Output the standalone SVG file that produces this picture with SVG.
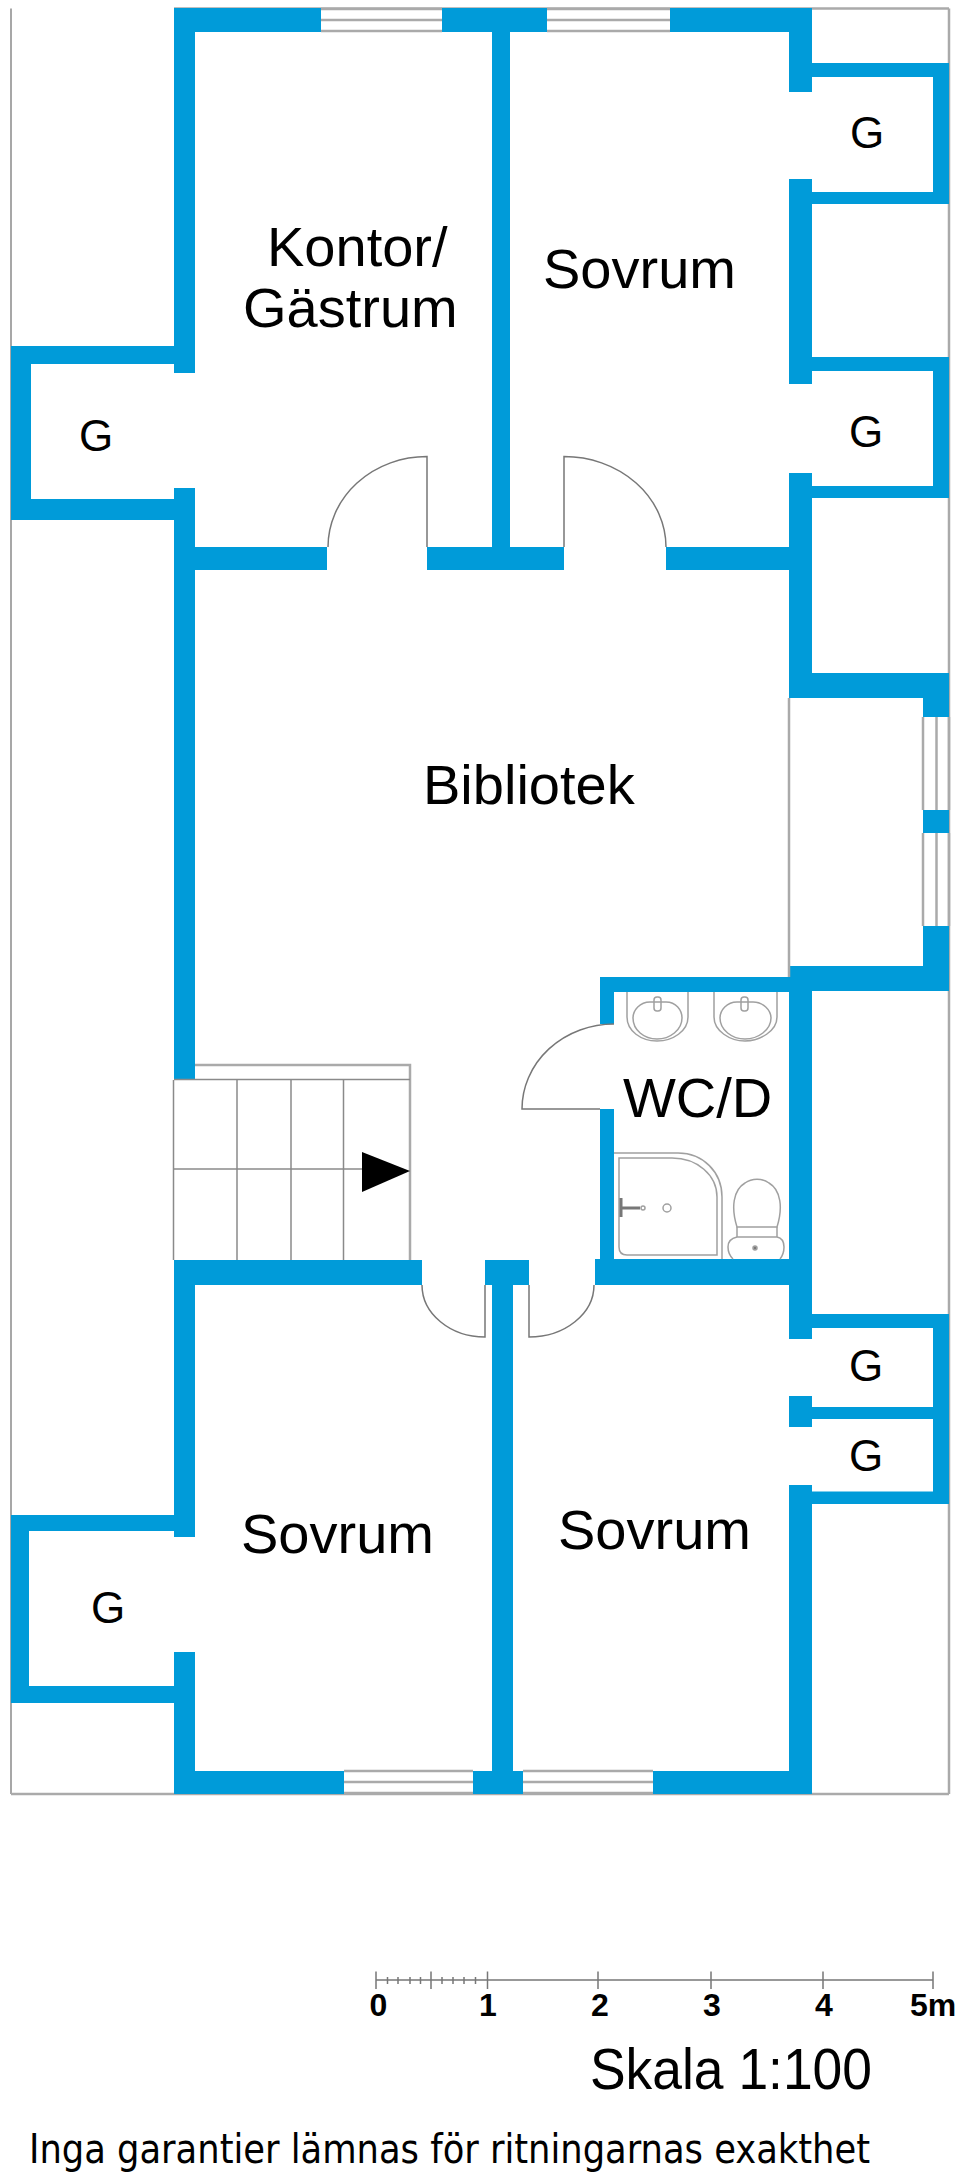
<svg xmlns="http://www.w3.org/2000/svg" width="960" height="2177" viewBox="0 0 960 2177">
<style>
.w{fill:#009bd9}
.g{fill:none;stroke:#aaa;stroke-width:2.5}
.t{fill:none;stroke:#8a8a8a;stroke-width:1.5}
.f{fill:none;stroke:#a0a0a0;stroke-width:1.5}
.s{fill:none;stroke:#777;stroke-width:1.5}
.l{font-family:"Liberation Sans",Arial,sans-serif;font-size:56px;fill:#000}
.m{font-size:44px}
.n{font-size:32px;font-weight:bold;text-anchor:middle}
</style>
<rect width="960" height="2177" fill="#fff"/>
<g id="frame">
<path class="t" d="M11 8.5V1794"/>
<path class="g" d="M949 8.5V1794M11 1794H949"/>
<path class="g" d="M174 8.5H949" stroke-width="1.5"/>
</g>
<g id="windows">
<path class="g" d="M321 9H442M321 20H442M321 31H442M547 9H670M547 20H670M547 31H670"/>
<path class="g" d="M923 717V810M936.500 717V810M949 717V810M923 833V926M936.500 833V926M949 833V926"/>
<path class="g" d="M344 1771H473M344 1782H473M344 1793H473M523 1771H653M523 1782H653M523 1793H653"/>
</g>
<g id="walls" class="w">
<rect x="174" y="8" width="147" height="24"/>
<rect x="442" y="8" width="105" height="24"/>
<rect x="670" y="8" width="142" height="24"/>
<rect x="174" y="8" width="21" height="365"/>
<rect x="789" y="8" width="23" height="84"/>
<rect x="492" y="20" width="18" height="530"/>
<rect x="11" y="346" width="163" height="18"/>
<rect x="11" y="346" width="20" height="174"/>
<rect x="11" y="499" width="163" height="21"/>
<rect x="174" y="488" width="21" height="592"/>
<rect x="195" y="547" width="132" height="23"/>
<rect x="427" y="547" width="137" height="23"/>
<rect x="666" y="547" width="123" height="23"/>
<rect x="812" y="63" width="137" height="14"/>
<rect x="933" y="63" width="16" height="141"/>
<rect x="812" y="192" width="137" height="12"/>
<rect x="789" y="179" width="23" height="205"/>
<rect x="812" y="357" width="137" height="14"/>
<rect x="933" y="357" width="16" height="141"/>
<rect x="812" y="486" width="137" height="12"/>
<rect x="789" y="473" width="23" height="224"/>
<rect x="789" y="673" width="160" height="25"/>
<rect x="923" y="673" width="26" height="44"/>
<rect x="923" y="810" width="26" height="23"/>
<rect x="923" y="926" width="26" height="65"/>
<rect x="789" y="966" width="160" height="25"/>
<rect x="600" y="977" width="189" height="15"/>
<rect x="600" y="977" width="14" height="47"/>
<rect x="600" y="1109" width="14" height="151"/>
<rect x="789" y="966" width="23" height="373"/>
<rect x="174" y="1260" width="248" height="25"/>
<rect x="485" y="1260" width="44" height="25"/>
<rect x="595" y="1259" width="194" height="26"/>
<rect x="174" y="1260" width="21" height="277"/>
<rect x="492" y="1285" width="21" height="509"/>
<rect x="812" y="1314" width="137" height="14"/>
<rect x="933" y="1314" width="16" height="190"/>
<rect x="789" y="1396" width="23" height="31"/>
<rect x="812" y="1407" width="121" height="12"/>
<rect x="812" y="1491.500" width="137" height="12.500"/>
<rect x="789" y="1485" width="23" height="309"/>
<rect x="11" y="1515" width="163" height="16"/>
<rect x="11" y="1515" width="18" height="188"/>
<rect x="11" y="1686" width="163" height="17"/>
<rect x="174" y="1652" width="21" height="142"/>
<rect x="174" y="1771" width="170" height="23"/>
<rect x="473" y="1771" width="50" height="23"/>
<rect x="653" y="1771" width="159" height="23"/>
</g>
<g id="niche">
<path class="g" d="M789 698V977" stroke-width="2"/>
</g>
<g id="doors">
<path class="s" d="M427 547V456.500A99 90.500 0 0 0 328 547"/>
<path class="s" d="M564 547V456.500A102 90.500 0 0 1 666 547"/>
<path class="s" d="M600 1109H522A92 85 0 0 1 614 1024"/>
<path class="s" d="M422 1285A63 52 0 0 0 485 1337V1285"/>
<path class="s" d="M594 1285A65 52 0 0 1 529 1337V1285"/>
</g>
<g id="stairs">
<path class="g" d="M195 1065H410V1260"/>
<path class="t" d="M174 1079.500H410M174 1169H362M173.500 1080V1260M237 1080V1260M291 1080V1260M343.500 1080V1260"/>
<polygon points="362,1152 410,1171 362,1192" fill="#000"/>
</g>
<g id="fixtures" class="f">
<g id="sink1">
<path d="M627 992V1017C627 1031 641 1041 657 1041S688 1031 688 1017V992"/>
<path d="M633 1018C633 1010 640 1002 650 1002H666C676 1002 682 1010 682 1018C682 1030 670 1039 657 1039S633 1030 633 1018Z"/>
<rect x="654" y="997" width="7" height="14" rx="3"/>
</g>
<g id="sink2">
<path d="M714 992V1017C714 1031 730 1041 745 1041S777 1031 777 1017V992"/>
<path d="M720 1018C720 1010 727 1002 737 1002H753C763 1002 771 1010 771 1018C771 1030 758 1039 745 1039S720 1030 720 1018Z"/>
<rect x="741" y="997" width="7" height="14" rx="3"/>
</g>
<g id="shower">
<path d="M614 1153H678C703 1153 722 1172 722 1197V1259"/>
<path d="M619 1158H672C697 1158 717 1175 717 1197V1255H627Q619 1255 619 1247Z"/>
<circle cx="667" cy="1208" r="4"/>
<circle cx="643" cy="1208" r="2"/>
<path d="M621 1198V1217M621 1208H640" stroke="#777" stroke-width="3"/>
</g>
<g id="toilet">
<path d="M737 1227C731 1208 733 1190 745 1183C752 1178 762 1178 769 1183C781 1190 783 1208 777 1227Z"/>
<path d="M737 1227V1237M777 1227V1237M737 1237C732 1238 728 1241 728 1247Q728 1254 733 1259M777 1237C782 1238 784 1241 784 1247Q784 1254 780 1259M737 1237H777"/>
<circle cx="755" cy="1248" r="2" fill="#777"/>
</g>
</g>
<g id="scale">
<path class="s" d="M376 1980H933M376 1971.500V1989M431 1971.500V1989M487.500 1971.500V1989M598 1971.500V1989M711 1971.500V1989M823 1971.500V1989M933 1971.500V1989M387.500 1977V1984M398 1977V1984M410 1977V1984M420.500 1977V1984M442 1977V1984M453 1977V1984M464 1977V1984M475.500 1977V1984"/>
<text class="l n" x="378.500" y="2016">0</text>
<text class="l n" x="488" y="2016">1</text>
<text class="l n" x="600" y="2016">2</text>
<text class="l n" x="712" y="2016">3</text>
<text class="l n" x="824" y="2016">4</text>
<text class="l n" x="933" y="2016">5m</text>
</g>
<g id="labels">
<text class="l" x="267" y="266">Kontor/</text>
<text class="l" x="243" y="327">Gästrum</text>
<text class="l" x="543" y="288">Sovrum</text>
<text class="l" x="423" y="804">Bibliotek</text>
<text class="l" x="623" y="1117">WC/D</text>
<text class="l" x="241" y="1553">Sovrum</text>
<text class="l" x="558" y="1549">Sovrum</text>
<text class="l m" x="79" y="451">G</text>
<text class="l m" x="850" y="148">G</text>
<text class="l m" x="849" y="447">G</text>
<text class="l m" x="91" y="1623">G</text>
<text class="l m" x="849" y="1381">G</text>
<text class="l m" x="849" y="1471">G</text>
<text class="l" x="590" y="2089" style="font-size:58px" textLength="282" lengthAdjust="spacingAndGlyphs">Skala 1:100</text>
<text x="29" y="2163" style="font-family:'DejaVu Sans Condensed','DejaVu Sans',sans-serif;font-size:40px;fill:#000" textLength="841" lengthAdjust="spacingAndGlyphs">Inga garantier lämnas för ritningarnas exakthet</text>
</g>
</svg>
